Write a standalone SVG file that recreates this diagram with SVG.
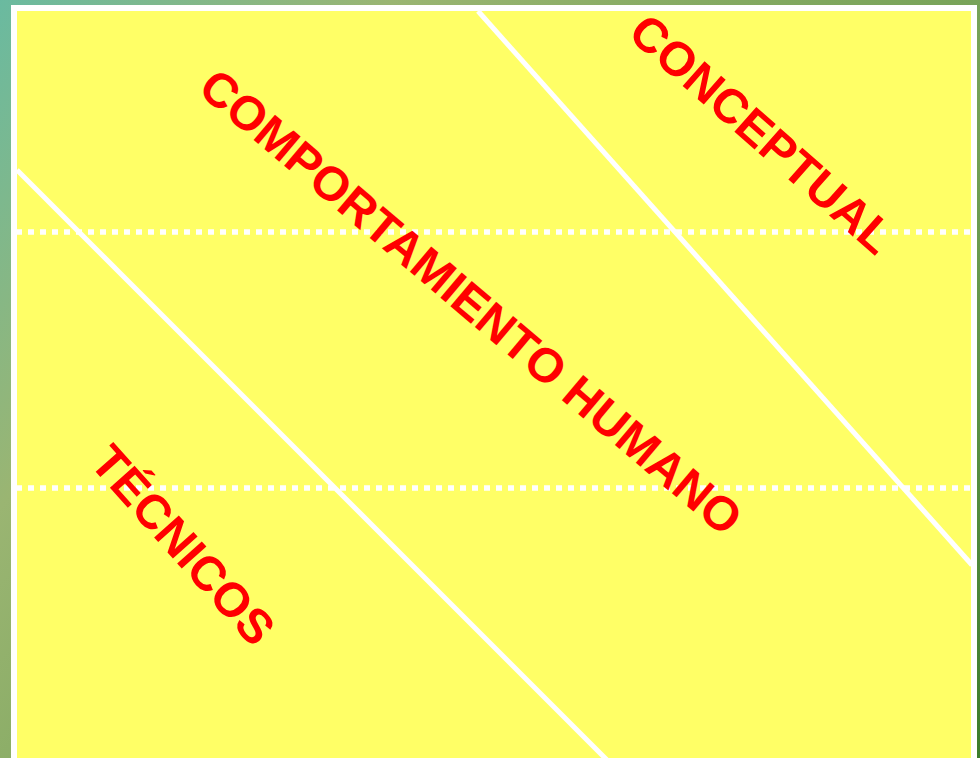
<svg xmlns="http://www.w3.org/2000/svg" width="980" height="758" viewBox="0 0 980 758">
  <defs>
    <linearGradient id="bg" x1="0" y1="0" x2="980" y2="758" gradientUnits="userSpaceOnUse">
      <stop offset="0" stop-color="#6ABAA0"/>
      <stop offset="0.25" stop-color="#9AB572"/>
      <stop offset="0.45" stop-color="#85AA62"/>
      <stop offset="0.7" stop-color="#72A055"/>
      <stop offset="1" stop-color="#3C7C2C"/>
    </linearGradient>
  </defs>
  <style>
    .dot { stroke: #FFFFFF; stroke-width: 5.5; stroke-dasharray: 6 6; fill: none; }
    .div { stroke: #FFFFFF; stroke-width: 5; fill: none; }
    .lbl { font-family: "Liberation Sans", Arial, sans-serif; font-weight: bold; font-size: 48px; fill: #FF0000; text-anchor: middle; dominant-baseline: central; }
  </style>
  <rect x="0" y="0" width="980" height="758" fill="url(#bg)"/>
  <g id="panel">
    <rect x="14" y="8" width="960" height="760" fill="#FFFF66" stroke="#FFFFFF" stroke-width="6"/>
  </g>
  <g id="connectors">
    <line class="dot" x1="16" y1="232" x2="971" y2="232"/>
    <line class="dot" x1="16" y1="488" x2="971" y2="488"/>
    <line class="div" x1="17" y1="170" x2="607" y2="760"/>
    <line class="div" x1="478" y1="11" x2="972" y2="565"/>
  </g>
  <g id="conceptual">
    <text class="lbl" transform="translate(762,134) rotate(41.5)">CONCEPTUAL</text>
  </g>
  <g id="comportamiento">
    <text class="lbl" transform="translate(471,302) rotate(40.2)">COMPORTAMIENTO HUMANO</text>
  </g>
  <g id="tecnicos">
    <text class="lbl" transform="translate(183,545) rotate(48.3)">TÉCNICOS</text>
  </g>
</svg>
